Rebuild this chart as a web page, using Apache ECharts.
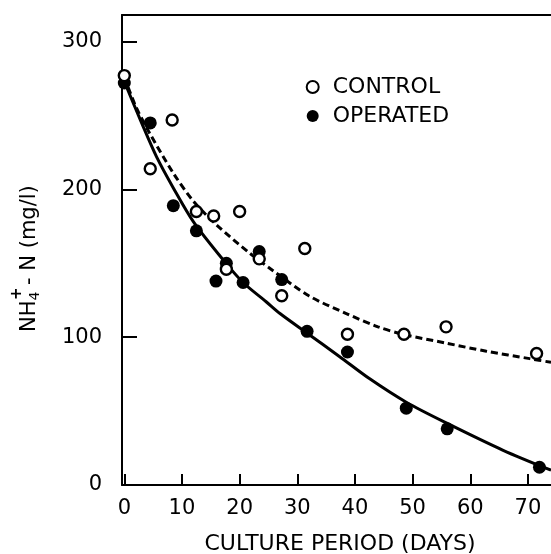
<!DOCTYPE html>
<html>
<head>
<meta charset="utf-8">
<script src="https://cdn.jsdelivr.net/npm/echarts@6/dist/echarts.min.js"></script>
<style>
html,body{margin:0;padding:0;background:#fff;}
#chart{width:551px;height:554px;}
</style>
</head>
<body>
<div id="chart"></div>
<script>
// Measured data (days, NH4+-N mg/l)
const daysControl   = [0, 4.5, 8.3, 12.5, 15.5, 17.7, 20, 23.4, 27.3, 31.3, 38.7, 48.5, 55.8, 71.5];
const nh4Control    = [277, 214, 247, 185, 182, 146, 185, 153, 128, 160, 102, 102, 107, 89];
const daysOperated  = [0, 4.5, 8.5, 12.5, 15.9, 17.7, 20.6, 23.4, 27.3, 31.7, 38.7, 48.9, 56, 72];
const nh4Operated   = [272, 245, 189, 172, 138, 150, 137, 158, 139, 104, 90, 52, 38, 12];
// Fitted curves
const fitControlDays  = [0, 2, 4.4, 8.5, 12, 16, 21.7, 25.8, 32, 38.5, 44, 48.3, 55.8, 62.8, 70.3, 74];
const fitControl      = [276, 256, 238, 211, 192, 176, 157, 145, 128, 116, 107, 102, 96, 90.5, 85.5, 83];
const fitOperatedDays = [0, 3, 5.6, 8.5, 12, 17, 20.6, 24.6, 27, 31.6, 37.3, 42.5, 48.9, 56.1, 65.7, 74];
const fitOperated     = [273, 245, 222, 201, 178, 153, 137, 124, 116, 103, 87, 72, 56, 41.5, 23.5, 10];
// Tick labels
const xTicks = [0, 10, 20, 30, 40, 50, 60, 70];
const yTicks = [0, 100, 200, 300];

const zip = (a, b) => a.map((v, i) => [v, b[i]]);
const FONT = 'DejaVu Sans';

const chart = echarts.init(document.getElementById('chart'), null, {renderer: 'canvas'});
chart.setOption({
  animation: false,
  backgroundColor: '#fff',
  textStyle: {fontFamily: FONT, color: '#000'},
  grid: {left: 122, right: 0, top: 15, bottom: 69, show: false},
  legend: {
    orient: 'vertical', left: 305.7, top: 76, padding: 0, itemGap: 7,
    itemWidth: 30, itemHeight: 12,
    data: ['CONTROL', 'OPERATED'],
    textStyle: {fontFamily: FONT, fontSize: 22, color: '#000'}
  },
  xAxis: [{
    type: 'value', min: -0.4, max: 74,
    axisLine: {show: true, onZero: false, lineStyle: {color: '#000', width: 2}},
    axisTick: {show: true, inside: true, length: 11, customValues: xTicks, lineStyle: {color: '#000', width: 2}},
    axisLabel: {show: true, customValues: xTicks, margin: 13, fontFamily: FONT, fontSize: 21, color: '#000'},
    splitLine: {show: false}
  }, {
    type: 'value', position: 'top', min: -0.4, max: 74,
    axisLine: {show: true, onZero: false, lineStyle: {color: '#000', width: 2}},
    axisTick: {show: false}, axisLabel: {show: false}, splitLine: {show: false}
  }],
  yAxis: {
    type: 'value', min: 0, max: 318,
    axisLine: {show: true, onZero: false, lineStyle: {color: '#000', width: 2}},
    axisTick: {show: true, inside: true, length: 15, customValues: yTicks, lineStyle: {color: '#000', width: 2}},
    axisLabel: {show: true, customValues: yTicks, margin: 20, fontFamily: FONT, fontSize: 21, color: '#000'},
    splitLine: {show: false}
  },
  series: [
    {
      name: 'fitControl', type: 'line', data: zip(fitControlDays, fitControl),
      smooth: 0.3, showSymbol: false, z: 2,
      lineStyle: {color: '#000', width: 3, type: [7, 4]}
    },
    {
      name: 'fitOperated', type: 'line', data: zip(fitOperatedDays, fitOperated),
      smooth: 0.3, showSymbol: false, z: 2,
      lineStyle: {color: '#000', width: 3}
    },
    {
      name: 'OPERATED', type: 'scatter', data: zip(daysOperated, nh4Operated),
      symbol: 'circle', symbolSize: 13, z: 3,
      itemStyle: {color: '#000', opacity: 1}
    },
    {
      name: 'CONTROL', type: 'scatter', data: zip(daysControl, nh4Control),
      symbol: 'circle', symbolSize: 11, z: 4,
      itemStyle: {color: '#fff', borderColor: '#000', borderWidth: 2.4, opacity: 1}
    }
  ],
  graphic: [
    {
      type: 'text', x: 340, y: 544,
      style: {text: 'CULTURE PERIOD (DAYS)', font: '22px "DejaVu Sans"', fill: '#000', align: 'center', verticalAlign: 'middle'}
    },
    {
      type: 'group', x: 30, y: 332, rotation: Math.PI / 2,
      children: [
        {type: 'text', x: 0, y: 0, style: {text: 'NH', font: '21px "DejaVu Sans"', fill: '#000', align: 'left', verticalAlign: 'middle'}},
        {type: 'text', x: 31.5, y: 5, style: {text: '4', font: '14px "DejaVu Sans"', fill: '#000', align: 'left', verticalAlign: 'middle'}},
        {type: 'text', x: 32, y: -13, style: {text: '+', font: 'bold 15px "DejaVu Sans"', fill: '#000', align: 'left', verticalAlign: 'middle'}},
        {type: 'text', x: 40.4, y: 0, style: {text: ' - N (mg/l)', font: '21px "DejaVu Sans"', fill: '#000', align: 'left', verticalAlign: 'middle'}}
      ]
    }
  ]
});
</script>
</body>
</html>
